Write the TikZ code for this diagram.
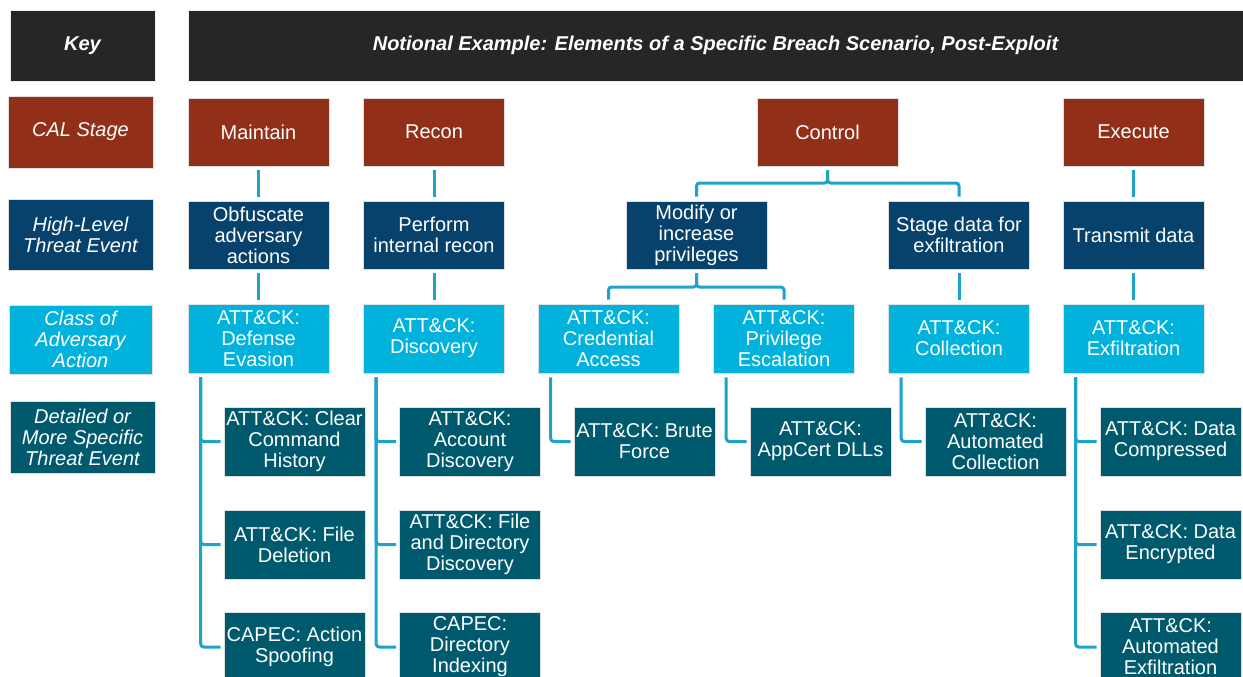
\documentclass[tikz,border=0pt]{standalone}
\usepackage{fontspec}
\setmainfont{Liberation Sans}
\usetikzlibrary{calc}
\definecolor{hdr}{HTML}{262626}
\definecolor{calred}{HTML}{922F19}
\definecolor{navy}{HTML}{06426C}
\definecolor{lblue}{HTML}{00B2DC}
\definecolor{teal}{HTML}{005A6E}
\definecolor{conncol}{HTML}{1BA3C9}
\tikzset{
  box/.style={rectangle, draw=white!75!gray, line width=0.6pt, text=white, align=center,
    inner sep=0pt, font=\fontsize{20}{21}\selectfont, minimum width=141pt, minimum height=68pt},
  hdrbox/.style={box, fill=hdr, draw=white!85!gray, minimum height=71pt, font=\fontsize{20}{22}\selectfont\bfseries\itshape},
  stagebox/.style={box, fill=calred},
  hlbox/.style={box, fill=navy},
  classbox/.style={box, fill=lblue, minimum height=69pt},
  detbox/.style={box, fill=teal, minimum height=69pt},
  keybox/.style={minimum width=145pt, font=\fontsize{20}{21}\selectfont\itshape},
  conn/.style={draw=conncol, line width=3pt, rounded corners=3pt}
}
\begin{document}
\begin{tikzpicture}[x=1pt,y=-1pt]
\useasboundingbox (0,0) rectangle (1243,677);
% headers
\node[hdrbox, minimum width=145pt] (key) at (82.5,45.5) {Key};
\node[hdrbox, minimum width=1055pt] (title) at (715.5,45.5) {Notional Example: Elements of a Specific Breach Scenario, Post-Exploit};
% key column
\node[stagebox, keybox, minimum height=72pt] (kcal) at (80.5,132) {CAL Stage};
\node[hlbox, keybox, minimum height=71pt] (khl) at (80.5,234.5) {High-Level\\Threat Event};
\node[classbox, keybox, minimum width=143pt] (kclass) at (80.5,339.5) {Class of\\Adversary\\Action};
\node[detbox, keybox, minimum height=72pt] (kdet) at (82.5,437) {Detailed or\\More Specific\\Threat Event};
% CAL stages
\node[stagebox] (maintain) at (258.5,132) {Maintain};
\node[stagebox] (recon) at (434,132) {Recon};
\node[stagebox] (control) at (827.5,132) {Control};
\node[stagebox] (execute) at (1133.5,132) {Execute};
% high-level
\node[hlbox] (obf) at (258.5,235) {Obfuscate\\adversary\\actions};
\node[hlbox] (perf) at (434,235) {Perform\\internal recon};
\node[hlbox] (modify) at (696.5,235) {Modify or\\increase\\privileges};
\node[hlbox] (stage) at (959,235) {Stage data for\\exfiltration};
\node[hlbox] (transmit) at (1133.5,235) {Transmit data};
% class
\node[classbox] (defev) at (258.5,338.5) {ATT\&CK:\\Defense\\Evasion};
\node[classbox] (disc) at (434,338.5) {ATT\&CK:\\Discovery};
\node[classbox] (cred) at (608.5,338.5) {ATT\&CK:\\Credential\\Access};
\node[classbox] (priv) at (784,338.5) {ATT\&CK:\\Privilege\\Escalation};
\node[classbox] (coll) at (959,338.5) {ATT\&CK:\\Collection};
\node[classbox] (exfil) at (1133.5,338.5) {ATT\&CK:\\Exfiltration};
% detailed row 1
\node[detbox] (clear) at (294.5,441.5) {ATT\&CK: Clear\\Command\\History};
\node[detbox] (acct) at (470,441.5) {ATT\&CK:\\Account\\Discovery};
\node[detbox] (brute) at (644.5,441.5) {ATT\&CK: Brute\\Force};
\node[detbox] (appcert) at (820.5,441.5) {ATT\&CK:\\AppCert DLLs};
\node[detbox] (autocoll) at (995.5,441.5) {ATT\&CK:\\Automated\\Collection};
\node[detbox] (comp) at (1170.5,441.5) {ATT\&CK: Data\\Compressed};
% row 2
\node[detbox] (filedel) at (294.5,544.5) {ATT\&CK: File\\Deletion};
\node[detbox] (filedir) at (470,544.5) {ATT\&CK: File\\and Directory\\Discovery};
\node[detbox] (enc) at (1170.5,544.5) {ATT\&CK: Data\\Encrypted};
% row 3
\node[detbox] (spoof) at (294.5,647) {CAPEC: Action\\Spoofing};
\node[detbox] (dirind) at (470,647) {CAPEC:\\Directory\\Indexing};
\node[detbox] (autoexfil) at (1170.5,647) {ATT\&CK:\\Automated\\Exfiltration};
% coordinates for junctions
\coordinate (jc) at (0,183);
\coordinate (jm) at (0,287);
% stage -> high level
\foreach \a/\b in {maintain/obf, recon/perf, execute/transmit,
                   obf/defev, perf/disc, stage/coll, transmit/exfil}
  \draw[conn] ([yshift=-4pt]\a.south) -- ([yshift=4pt]\b.north);
\draw[conn] ([yshift=-4pt]control.south) |- (modify.north |- jc) -- ([yshift=4pt]modify.north);
\draw[conn] ([yshift=-4pt]control.south) |- (stage.north |- jc) -- ([yshift=4pt]stage.north);
\draw[conn] ([yshift=-4pt]modify.south) |- (cred.north |- jm) -- ([yshift=4pt]cred.north);
\draw[conn] ([yshift=-4pt]modify.south) |- (priv.north |- jm) -- ([yshift=4pt]priv.north);
% class -> detailed
\foreach \a/\b in {defev/clear, defev/filedel, defev/spoof,
                   disc/acct, disc/filedir, disc/dirind,
                   cred/brute, priv/appcert, coll/autocoll,
                   exfil/comp, exfil/enc, exfil/autoexfil}
  \draw[conn] ([xshift=13pt,yshift=-4pt]\a.south west) |- ([xshift=-3pt]\b.west);
\end{tikzpicture}
\end{document}
